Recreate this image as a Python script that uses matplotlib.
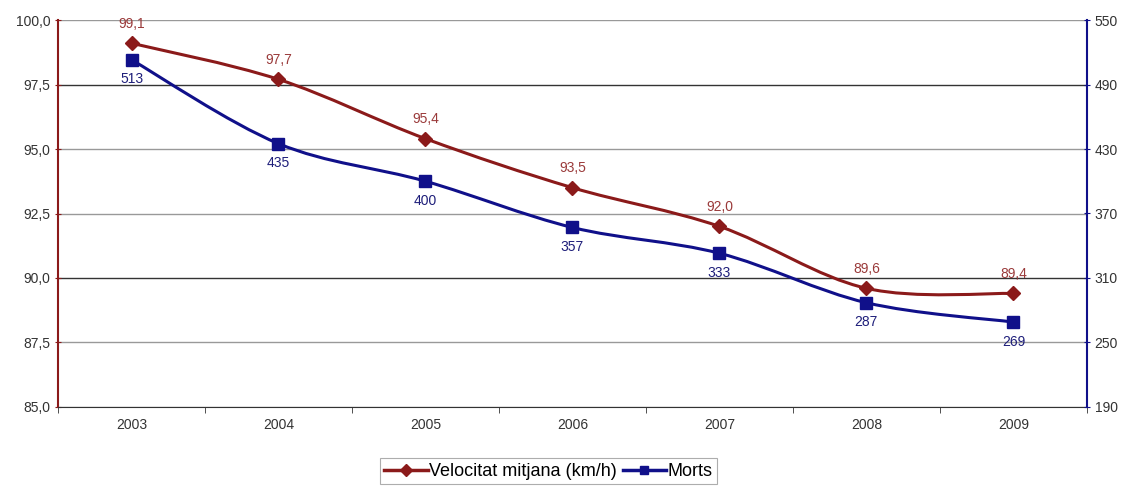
import numpy as np
import matplotlib
matplotlib.use('Agg')
import matplotlib.pyplot as plt
from matplotlib.path import Path
from matplotlib.patches import PathPatch
from matplotlib.lines import Line2D

plt.rcParams['font.family'] = ['Liberation Sans', 'DejaVu Sans']

# data
years = ['2003', '2004', '2005', '2006', '2007', '2008', '2009']
speed = [99.1, 97.7, 95.4, 93.5, 92.0, 89.6, 89.4]
deaths = [513, 435, 400, 357, 333, 287, 269]
left_ticks = [85.0, 87.5, 90.0, 92.5, 95.0, 97.5, 100.0]
right_ticks = [190, 250, 310, 370, 430, 490, 550]

red = '#8B1A1A'
blue = '#10108A'


def smooth_path(xs, ys, t=0.5):
    'Catmull-Rom style bezier through the data points (like excel smoothing)'
    xs = np.asarray(xs, float)
    ys = np.asarray(ys, float)
    n = len(xs)
    verts = [(xs[0], ys[0])]
    codes = [Path.MOVETO]
    for i in range(n - 1):
        i0 = max(i - 1, 0)
        i3 = min(i + 2, n - 1)
        c1 = (xs[i] + (xs[i + 1] - xs[i0]) * t / 3, ys[i] + (ys[i + 1] - ys[i0]) * t / 3)
        c2 = (xs[i + 1] - (xs[i3] - xs[i]) * t / 3, ys[i + 1] - (ys[i3] - ys[i]) * t / 3)
        verts += [c1, c2, (xs[i + 1], ys[i + 1])]
        codes += [Path.CURVE4] * 3
    return Path(verts, codes)


fig = plt.figure(figsize=(11.31, 4.88), dpi=100)
ax = fig.add_axes([0.0513, 0.166, 0.9097, 0.793])
ax2 = ax.twinx()

x = np.arange(len(years))

ax.set_xlim(-0.5, len(years) - 0.5)
ax.set_ylim(85, 100)
ax2.set_ylim(190, 550)

ax.set_yticks(left_ticks)
ax.set_yticklabels([('%.1f' % v).replace('.', ',') for v in left_ticks])
ax2.set_yticks(right_ticks)
ax2.set_yticklabels([str(v) for v in right_ticks])

ax.set_xticks(x)
ax.set_xticklabels(years)
ax.set_xticks(np.arange(len(years) + 1) - 0.5, minor=True)
ax.tick_params(axis='x', which='major', length=0, pad=8, labelsize=10, labelcolor='#333333')
ax.tick_params(axis='x', which='minor', length=4, color='#333333', direction='out')
ax.tick_params(axis='y', length=5, direction='inout', labelsize=10, labelcolor='#333333', color=red, pad=3)
ax2.tick_params(axis='y', length=5, direction='inout', labelsize=10, labelcolor='#333333', color=blue, pad=3)

ax.yaxis.grid(True, color='#999999', linewidth=1.0)
for v, gl in zip(left_ticks, ax.get_ygridlines()):
    if v in (90.0, 97.5):
        gl.set_color('#333333')
ax.set_axisbelow(True)

for s in ['top']:
    ax.spines[s].set_visible(False)
    ax2.spines[s].set_visible(False)
ax.spines['right'].set_visible(False)
ax2.spines['left'].set_visible(False)
ax2.spines['bottom'].set_visible(False)
ax.spines['left'].set_color(red)
ax.spines['left'].set_linewidth(1.5)
ax2.spines['right'].set_color(blue)
ax2.spines['right'].set_linewidth(1.5)
ax.spines['bottom'].set_color('#333333')

# lines
ax.add_patch(PathPatch(smooth_path(x, speed), facecolor='none', edgecolor=red, lw=2.2, zorder=3))
ax.plot(x, speed, ls='none', marker='D', ms=7, color=red, zorder=4)
ax2.add_patch(PathPatch(smooth_path(x, deaths), facecolor='none', edgecolor=blue, lw=2.2, zorder=3))
ax2.plot(x, deaths, ls='none', marker='s', ms=8, color=blue, zorder=4)

for xi, v in zip(x, speed):
    ax.annotate(('%.1f' % v).replace('.', ','), (xi, v), xytext=(0, 9), textcoords='offset points',
                ha='center', va='bottom', fontsize=10, color='#9A3A3A')
for xi, v in zip(x, deaths):
    ax2.annotate(str(v), (xi, v), xytext=(0, -9), textcoords='offset points',
                 ha='center', va='top', fontsize=10, color='#1E1E7A')

handles = [Line2D([], [], color=red, lw=2.5, marker='D', ms=6),
           Line2D([], [], color=blue, lw=2.5, marker='s', ms=6)]
leg = fig.legend(handles, ['Velocitat mitjana (km/h)', 'Morts'], loc='lower center',
                 bbox_to_anchor=(0.485, 0.0), ncol=2, frameon=True, fancybox=False,
                 fontsize=13, handlelength=2.4, handletextpad=0.1, columnspacing=0.3,
                 borderpad=0.25, borderaxespad=0.2)
leg.get_frame().set_edgecolor('#999999')
leg.get_frame().set_linewidth(0.8)

fig.savefig('out.png', dpi=100)
